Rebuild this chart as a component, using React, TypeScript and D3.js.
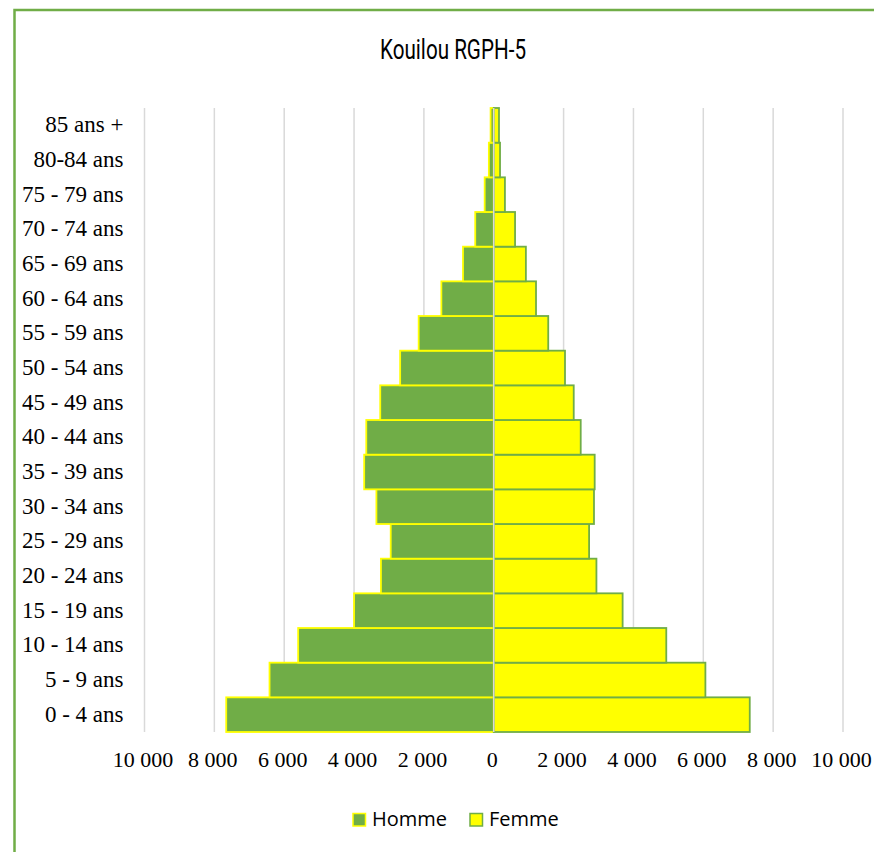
import React from "react";
import * as d3 from "d3";

const categories = [
  "0 - 4 ans", "5 - 9 ans", "10 - 14 ans", "15 - 19 ans", "20 - 24 ans",
  "25 - 29 ans", "30 - 34 ans", "35 - 39 ans", "40 - 44 ans", "45 - 49 ans",
  "50 - 54 ans", "55 - 59 ans", "60 - 64 ans", "65 - 69 ans", "70 - 74 ans",
  "75 - 79 ans", "80-84 ans", "85 ans +",
];
const homme = [7660, 6420, 5600, 4000, 3230, 2950, 3360, 3710, 3650, 3250, 2680, 2150, 1500, 880, 530, 260, 140, 90];
const femme = [7330, 6060, 4940, 3690, 2940, 2730, 2870, 2890, 2490, 2290, 2040, 1560, 1210, 920, 610, 320, 180, 150];
const tickValues = [-10000, -8000, -6000, -4000, -2000, 0, 2000, 4000, 6000, 8000, 10000];
const seriesNames = ["Homme", "Femme"];
const title = "Kouilou RGPH-5";

const GREEN = "#70AD47";
const YELLOW = "#FFFF00";
const GRID = "#D9D9D9";

function fmt(v: number): string {
  const a = Math.abs(v);
  if (a === 0) return "0";
  const s = String(a);
  return s.replace(/\B(?=(\d{3})+(?!\d))/g, " ");
}

export default function App() {
  const W = 874, H = 852;
  const top = 108, bottom = 732;
  const x = d3.scaleLinear().domain([-10000, 10000]).range([144.5, 843]);
  const y = d3.scaleBand<string>().domain([...categories].reverse()).range([top, bottom]).padding(0);
  const bw = y.bandwidth();

  return (
    <svg width={W} height={H} style={{ position: "absolute", left: 0, top: 0, background: "#fff" }}>
      <rect x={0} y={0} width={W} height={H} fill="#fff" />
      <rect x={14.5} y={10} width={900} height={900} fill="#fff" stroke={GREEN} strokeWidth={2.5} />
      <text x={453} y={59} textAnchor="middle" fontFamily="Roboto, 'DejaVu Sans'" fontSize={28}
        textLength={146} lengthAdjust="spacingAndGlyphs" fill="#000">{title}</text>
      {tickValues.map((t) => (
        <line key={"g" + t} x1={x(t)} x2={x(t)} y1={top} y2={bottom} stroke={GRID} strokeWidth={1.5} />
      ))}
      {categories.map((c, i) => (
        <g key={c}>
          <rect x={x(-homme[i])} y={y(c)!} width={x(0) - x(-homme[i])} height={bw}
            fill={GREEN} stroke={YELLOW} strokeWidth={1.8} />
          <rect x={x(0)} y={y(c)!} width={x(femme[i]) - x(0)} height={bw}
            fill={YELLOW} stroke={GREEN} strokeWidth={1.8} />
        </g>
      ))}
      <line x1={x(0)} x2={x(0)} y1={top} y2={bottom} stroke={GRID} strokeWidth={1.5} />
      {categories.map((c) => (
        <text key={"l" + c} x={123.5} y={y(c)! + bw / 2 + 7} textAnchor="end"
          fontFamily="'Liberation Serif', 'Times New Roman', serif" fontSize={23} fill="#000">{c}</text>
      ))}
      {tickValues.map((t) => (
        <text key={"t" + t} x={x(t) - 1.5} y={767} textAnchor="middle"
          fontFamily="'Liberation Serif', 'Times New Roman', serif" fontSize={22} fill="#000">{fmt(t)}</text>
      ))}
      <g>
        <rect x={353} y={813.5} width={12.5} height={12.5} fill={GREEN} stroke={YELLOW} strokeWidth={1.5} />
        <text x={372} y={826} fontFamily="'Open Sans', 'Noto Sans', sans-serif" fontSize={20} fill="#000">{seriesNames[0]}</text>
        <rect x={470} y={813.5} width={12.5} height={12.5} fill={YELLOW} stroke={GREEN} strokeWidth={1.5} />
        <text x={489} y={826} fontFamily="'Open Sans', 'Noto Sans', sans-serif" fontSize={20} fill="#000">{seriesNames[1]}</text>
      </g>
    </svg>
  );
}
